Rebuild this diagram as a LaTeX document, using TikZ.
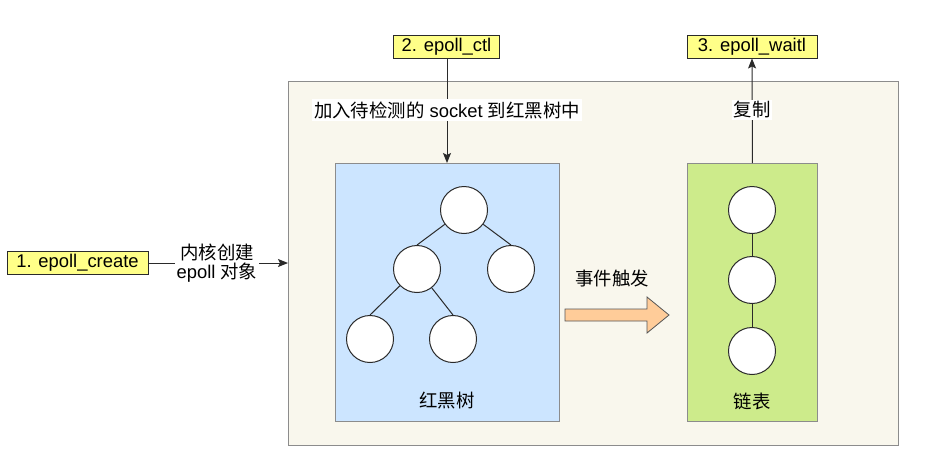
\documentclass[tikz,border=0pt]{standalone}
\usepackage{fontspec}
\setmainfont{Liberation Sans}
\newfontfamily\cjk{Noto Sans CJK SC}
\usetikzlibrary{arrows.meta,positioning}
\definecolor{bgbox}{HTML}{F9F7ED}
\definecolor{bgborder}{HTML}{8C8C8C}
\definecolor{yel}{HTML}{FFFF88}
\definecolor{blu}{HTML}{CCE5FF}
\definecolor{grn}{HTML}{CDEB8B}
\definecolor{org}{HTML}{FFCC99}
\definecolor{ln}{HTML}{2A2A2A}
\tikzset{
  txt/.style={font=\fontsize{18.4}{21}\selectfont, text=black, inner sep=1pt},
  callbox/.style={draw=ln, fill=yel, line width=0.9pt, minimum height=23, inner sep=0pt, font=\fontsize{18.4}{21}\selectfont},
  regionbox/.style={draw=bgborder, line width=0.9pt},
  circ/.style={circle, draw=ln, fill=white, line width=1pt, minimum size=47, inner sep=0pt},
  arr/.style={draw=ln, line width=1pt, -{Stealth[length=10pt,width=8pt,inset=2pt]}},
  edge/.style={draw=ln, line width=1pt},
}
\begin{document}
\begin{tikzpicture}[x=1pt,y=-1pt]
\useasboundingbox (0,0) rectangle (947,463);
% big container
\node[regionbox, fill=bgbox, minimum width=610, minimum height=364, anchor=north west] (big) at (288,81) {};
% inner boxes
\node[regionbox, fill=blu, minimum width=224, minimum height=258, anchor=north west] (rb) at (335,163) {};
\node[regionbox, fill=grn, minimum width=130, minimum height=258, anchor=north west] (ll) at (687,163) {};
% call boxes
\node[callbox, minimum width=141] (c1) at (77.5,263) {1. epoll\_create};
\node[callbox, minimum width=106] (c2) at (446.5,46.5) {2. epoll\_ctl};
\node[callbox, minimum width=130] (c3) at (752,46.5) {3. epoll\_waitl};
% tree
\node[circ] (t0) at (464,210) {};
\node[circ] (t1) at (417,269) {};
\node[circ] (t2) at (511,269) {};
\node[circ] (t3) at (370,339) {};
\node[circ] (t4) at (453,339) {};
\draw[edge] (t0) -- (t1.north);
\draw[edge] (t0) -- (t2.north);
\draw[edge] (t1) -- (t3.north);
\draw[edge] (t1) -- (t4.north);
% list
\node[circ] (l0) at (752,210) {};
\node[circ] (l1) at (752,280) {};
\node[circ] (l2) at (752,351) {};
\draw[edge] (l0) -- (l1);
\draw[edge] (l1) -- (l2);
% labels in boxes
\node[txt] (rblab) at (447,401) {\cjk 红黑树};
\node[txt] (lllab) at (752,401) {\cjk 链表};
% orange arrow
\draw[draw=ln!80, line width=0.8pt, fill=org] (565,309) -- (647,309) -- (647,297) -- (669,315) -- (647,333) -- (647,321) -- (565,321) -- cycle;
\node[txt] (evt) at (612,278) {\cjk 事件触发};
% arrows
\coordinate (bigW) at (big.west |- c1.east);
\draw[arr] (c1.east) -- (bigW);
\node[txt, fill=white, align=center, inner sep=2pt] (lab1) at (217,263) {{\cjk 内核创建}\\[-2pt]epoll {\cjk 对象}};
\draw[arr] (c2.south -| 447,0) -- (rb.north -| 447,0);
\node[txt, fill=white, inner sep=2pt] (lab2) at (447,110) {{\cjk 加入待检测的} socket {\cjk 到红黑树中}};
\draw[arr] (ll.north) -- (c3.south);
\node[txt, fill=white, inner sep=2pt] (lab3) at (752,110) {\cjk 复制};
\end{tikzpicture}
\end{document}
